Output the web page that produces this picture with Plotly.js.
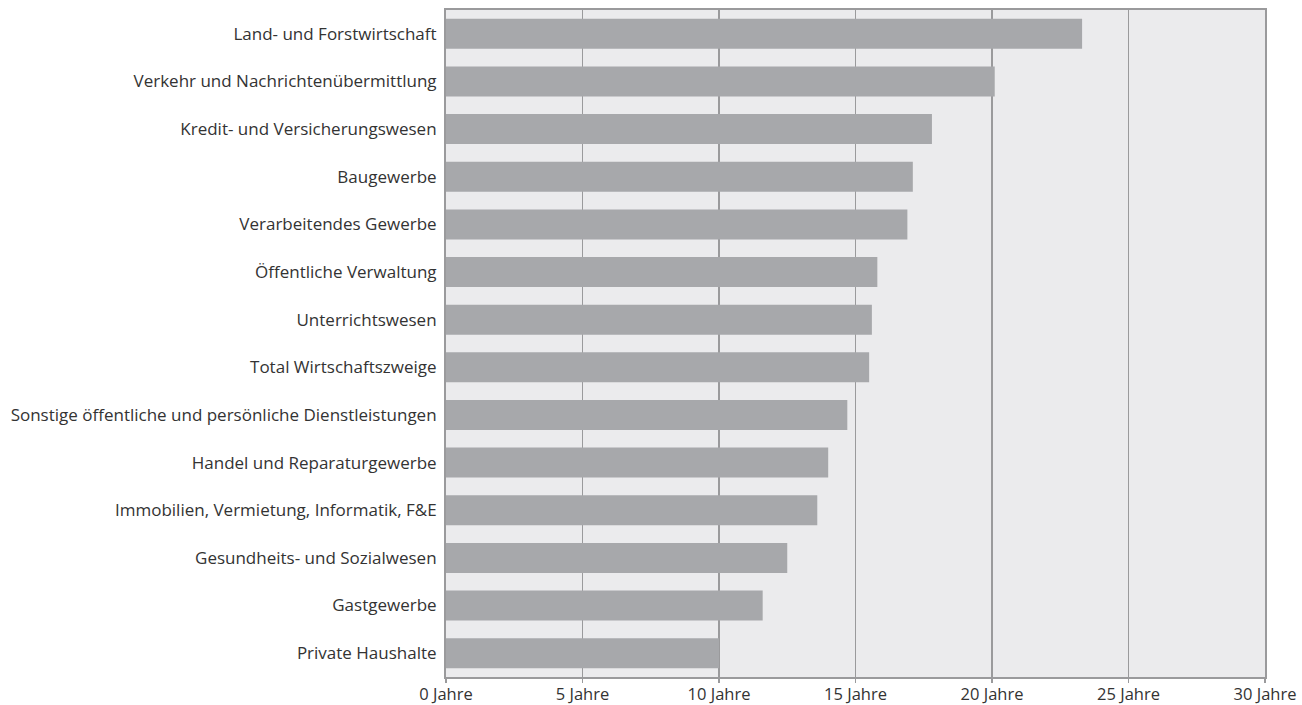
<!DOCTYPE html>
<html><head><meta charset="utf-8">
<script src="https://cdn.plot.ly/plotly-3.0.1.min.js"></script>
<style>html,body{margin:0;padding:0;background:#fff}</style>
</head><body>
<div id="chart" style="width:1302px;height:705px"></div>
<script>
const categories = [
  "Land- und Forstwirtschaft",
  "Verkehr und Nachrichtenübermittlung",
  "Kredit- und Versicherungswesen",
  "Baugewerbe",
  "Verarbeitendes Gewerbe",
  "Öffentliche Verwaltung",
  "Unterrichtswesen",
  "Total Wirtschaftszweige",
  "Sonstige öffentliche und persönliche Dienstleistungen",
  "Handel und Reparaturgewerbe",
  "Immobilien, Vermietung, Informatik, F&E",
  "Gesundheits- und Sozialwesen",
  "Gastgewerbe",
  "Private Haushalte"
];
const values = [23.3, 20.1, 17.8, 17.1, 16.9, 15.8, 15.6, 15.5, 14.7, 14.0, 13.6, 12.5, 11.6, 10.0];
const tickValues = [0, 5, 10, 15, 20, 25, 30];
const tickLabels = ["0 Jahre", "5 Jahre", "10 Jahre", "15 Jahre", "20 Jahre", "25 Jahre", "30 Jahre"];

Plotly.newPlot("chart", [{
  type: "bar",
  orientation: "h",
  x: values,
  y: categories,
  marker: {color: "#a7a8ab"},
  width: 0.63,
  hoverinfo: "x+y"
}], {
  width: 1302, height: 705,
  margin: {l: 446, r: 37, t: 10, b: 28, pad: 0},
  paper_bgcolor: "#ffffff",
  plot_bgcolor: "#ebebed",
  font: {family: "'Open Sans', sans-serif", size: 17, color: "#333"},
  showlegend: false,
  xaxis: {
    range: [0, 30],
    tickvals: tickValues,
    ticktext: tickLabels,
    showgrid: true, gridcolor: "#9a9a9c", gridwidth: 1.5,
    zeroline: false,
    showline: true, linecolor: "#9a9a9c", linewidth: 2, mirror: true,
    ticks: "outside", ticklen: 4, tickcolor: "#9a9a9c", tickwidth: 1.5,
    ticklabelstandoff: -3,
    tickfont: {size: 16.5, color: "#333"},
    fixedrange: true
  },
  yaxis: {
    autorange: "reversed",
    type: "category",
    showgrid: false, zeroline: false,
    showline: true, linecolor: "#9a9a9c", linewidth: 2, mirror: true,
    ticks: "", ticklabelstandoff: 4,
    tickfont: {size: 17, color: "#333"},
    fixedrange: true
  },
  bargap: 0.37
}, {displayModeBar: false, staticPlot: true});
</script>
</body></html>
